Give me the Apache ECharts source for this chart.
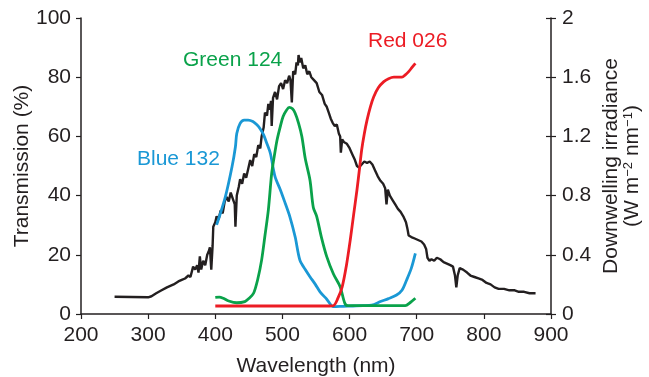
<!DOCTYPE html>
<html>
<head>
<meta charset="utf-8">
<title>Transmission and irradiance</title>
<script src="https://cdn.jsdelivr.net/npm/echarts@6/dist/echarts.min.js"></script>
<style>
	html,body{margin:0;padding:0;background:#fff;}
	#chart{width:649px;height:377px;}
</style>
</head>
<body>
<div id="chart"></div>
<script type="text/javascript">
	// downwelling irradiance (right axis)
	var sunNm = [250,300,305,312,320,328,333,338,345,350,355,360,363,367,370,373,375,377,379,382,385,388,390,392,394,396,397,400,402,405,408,411,414,417,420,423,426,429,430,432,435,437,440,443,446,449,452,455,458,461,464,467,469,472,474,477,479,481,483,484,486,489,492,495,498,501,504,507,510,512,514,516,519,521,523,524,526,528,531,534,537,540,543,547,551,555,559,563,566,569,572,575,578,581,584,586,587,589,592,596,600,604,608,611,614,618,622,626,630,634,638,642,646,650,653,655,657,660,664,668,672,676,680,684,686,688,692,697,702,707,711,714,716,719,722,726,730,735,740,745,750,754,757,759,761,764,769,775,780,786,792,798,804,810,816,822,830,838,846,852,860,868,877];
	var sunIrr = [0.117,0.113,0.12,0.14,0.16,0.18,0.19,0.20,0.22,0.23,0.24,0.26,0.25,0.32,0.30,0.33,0.28,0.39,0.30,0.36,0.33,0.40,0.42,0.45,0.30,0.46,0.59,0.62,0.66,0.64,0.70,0.68,0.76,0.79,0.76,0.82,0.78,0.74,0.59,0.80,0.86,0.91,0.88,0.95,0.92,0.98,1.04,1.00,1.08,1.06,1.14,1.12,1.20,1.26,1.36,1.34,1.42,1.38,1.44,1.27,1.46,1.50,1.45,1.54,1.56,1.52,1.58,1.56,1.61,1.58,1.43,1.64,1.62,1.70,1.68,1.75,1.70,1.73,1.66,1.68,1.62,1.64,1.60,1.58,1.56,1.50,1.48,1.42,1.40,1.36,1.32,1.29,1.27,1.28,1.22,1.20,1.09,1.18,1.16,1.15,1.12,1.08,1.04,1.00,0.99,1.01,1.03,1.02,1.03,1.01,0.97,0.93,0.90,0.88,0.85,0.74,0.84,0.80,0.77,0.74,0.71,0.69,0.66,0.62,0.58,0.53,0.52,0.51,0.50,0.49,0.47,0.44,0.38,0.36,0.37,0.36,0.38,0.37,0.35,0.34,0.33,0.32,0.26,0.18,0.26,0.31,0.30,0.28,0.26,0.25,0.24,0.23,0.21,0.20,0.18,0.17,0.17,0.16,0.16,0.15,0.15,0.14,0.14];

	// filter transmission (left axis, %)
	var blueNm = [402,415,425,430,432,437,443,449,456,462,467,472,477,482,489,497,504,511,519,526,534,541,549,556,566,576,590,605,620,633,646,658,670,678,685,692,698];
	var blueT  = [30.1,39.6,49.8,56.5,61,64.4,65.5,65.5,65,63.9,62.5,60.5,57.5,54.3,46.4,41.9,37.5,32.9,26,18.2,15,12.6,10,7.5,5,2.5,2.6,2.7,2.8,3,4.2,5.2,6.4,8,11.5,15.5,20.5];
	var greenNm = [400,406,412,420,432,444,450,457,463,469,474,479,484,488,492,497,501,506,510,515,519,524,529,534,541,546,551,558,566,576,586,593,598,620,650,683,690,698];
	var greenT  = [5.6,5.7,5.3,4.4,3.8,4.2,5.2,7,11.5,18.2,26.5,35.1,47.5,53.5,58.8,63.5,66.7,68.8,69.8,69.3,67.8,64.5,59.9,52.5,45.3,36,33,26,19.4,13.5,9.2,3.6,2.8,2.8,2.8,2.8,3.8,5.3];
	var redNm = [400,450,500,550,570,576,582,589,595,601,606,611,615,618,622,626,631,636,643,651,658,666,672,678,683,688,693,698];
	var redT  = [2.7,2.7,2.7,2.7,2.7,2.8,5,9.2,16,25,33.5,41.9,49.5,55.4,61,65.5,70,73.4,76.5,78.5,79.5,80,80,80,80.8,81.9,83.3,84.7];

	var xTicks = [200,900,100];
	var leftTicks = [0,100,20];
	var rightTicks = [0,2,0.4];

	function pairs(xs, ys){
		var out = [];
		for(var i = 0;i < xs.length;i ++){
			out.push([xs[i], ys[i]]);
		}
		return out;
	}

	var ink = '#231f20';
	var font = 'Liberation Sans, Arial, sans-serif';
	var fs = 21;
	var myChart = echarts.init(document.getElementById('chart'));
	var option = {
		animation: false,
		grid: {left: 81, right: 98, top: 18, bottom: 63, containLabel: false, outerBoundsMode: 'none'},
		xAxis: {
			type: 'value', min: xTicks[0], max: xTicks[1], interval: xTicks[2],
			name: 'Wavelength (nm)', nameLocation: 'middle', nameGap: 42, nameMoveOverlap: false,
			nameTextStyle: {color: ink, fontSize: fs, fontFamily: font},
			axisLine: {lineStyle: {color: ink, width: 1.5}},
			axisTick: {length: 5, lineStyle: {color: ink, width: 1.2}},
			axisLabel: {color: ink, fontSize: fs, fontFamily: font, margin: 11},
			splitLine: {show: false}
		},
		yAxis: [
			{
				type: 'value', min: leftTicks[0], max: leftTicks[1], interval: leftTicks[2],
				name: 'Transmission (%)', nameLocation: 'middle', nameGap: 48, nameRotate: 90, nameMoveOverlap: false,
				nameTextStyle: {color: ink, fontSize: fs, fontFamily: font},
				axisLine: {show: true, lineStyle: {color: ink, width: 1.5}},
				axisTick: {show: true, length: 5, lineStyle: {color: ink, width: 1.2}},
				axisLabel: {color: ink, fontSize: fs, fontFamily: font, margin: 10},
				splitLine: {show: false}
			},
			{
				type: 'value', position: 'right', min: rightTicks[0], max: rightTicks[1], interval: rightTicks[2],
				name: '{a|Downwelling irradiance}\n{a|(W m}{s|−2}{a| nm}{s|−1}{a|)}',
				nameLocation: 'middle', nameGap: 50, nameRotate: 90, nameMoveOverlap: false,
				nameTextStyle: {
					color: ink, fontFamily: font, lineHeight: 21, align: 'center',
					rich: {
						a: {fontSize: fs, color: ink, fontFamily: font},
						s: {fontSize: 13, color: ink, fontFamily: font, padding: [0, 0, 9, 0]}
					}
				},
				axisLine: {show: true, lineStyle: {color: ink, width: 1.5}},
				axisTick: {show: true, length: 5, lineStyle: {color: ink, width: 1.2}},
				axisLabel: {color: ink, fontSize: fs, fontFamily: font, margin: 11},
				splitLine: {show: false}
			},
			{
				type: 'value', position: 'right', min: rightTicks[0], max: rightTicks[1], interval: rightTicks[2],
				axisLine: {show: false},
				axisTick: {show: true, inside: true, length: 5, lineStyle: {color: ink, width: 1.2}},
				axisLabel: {show: false},
				splitLine: {show: false}
			}
		],
		series: [
			{
				name: 'Irradiance', type: 'line', yAxisIndex: 1, showSymbol: false,
				lineStyle: {color: ink, width: 2.4}, data: pairs(sunNm, sunIrr)
			},
			{
				name: 'Blue 132', type: 'line', smooth: 0.3, showSymbol: false,
				lineStyle: {color: '#1a98d5', width: 2.8}, data: pairs(blueNm, blueT)
			},
			{
				name: 'Green 124', type: 'line', smooth: 0.3, showSymbol: false,
				lineStyle: {color: '#0aa24a', width: 2.8}, data: pairs(greenNm, greenT)
			},
			{
				name: 'Red 026', type: 'line', smooth: 0.3, showSymbol: false,
				lineStyle: {color: '#ec1c24', width: 2.8}, data: pairs(redNm, redT)
			}
		],
		graphic: [
			{type: 'text', left: 183, top: 50, style: {text: 'Green 124', fill: '#0aa24a', font: fs + 'px ' + font}},
			{type: 'text', left: 137, top: 149, style: {text: 'Blue 132', fill: '#1a98d5', font: fs + 'px ' + font}},
			{type: 'text', left: 368, top: 31, style: {text: 'Red 026', fill: '#ec1c24', font: fs + 'px ' + font}}
		]
	};
	myChart.setOption(option, true);
</script>
</body>
</html>
